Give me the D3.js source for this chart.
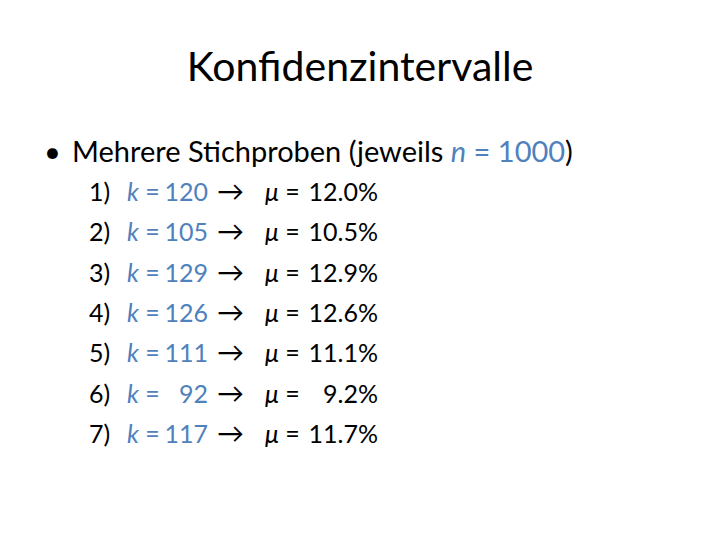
<!DOCTYPE html>
<html><head><meta charset="utf-8">
<script src="https://cdn.jsdelivr.net/npm/d3@7"></script>
<style>body{margin:0;background:#fff}</style>
</head><body><div id="chart"></div>
<script>
const labels = ["1)", "2)", "3)", "4)", "5)", "6)", "7)"];
const kValues = [120, 105, 129, 126, 111, 92, 117];
const muValues = ["12.0%", "10.5%", "12.9%", "12.6%", "11.1%", "9.2%", "11.7%"];

const width = 720, height = 540;
const font = "Lato, 'Open Sans', sans-serif";
const blue = "#4f81bd";

const svg = d3.select("#chart").append("svg")
    .attr("width", width).attr("height", height)
    .style("font-family", font);

// title
svg.append("text").attr("x", 360).attr("y", 81)
    .attr("text-anchor", "middle").attr("font-size", 41).attr("fill", "#000")
    .text("Konfidenzintervalle");

// bullet line
svg.append("text").attr("x", 44).attr("y", 162).attr("font-size", 29).text("•");
const head = svg.append("text").attr("x", 72).attr("y", 162).attr("font-size", 29);
head.append("tspan").text("Mehrere Stichproben (jeweils ");
head.append("tspan").attr("fill", blue).attr("font-style", "italic").text("n");
head.append("tspan").attr("fill", blue).text(" = 1000");
head.append("tspan").text(")");

const y = d3.scalePoint().domain(labels).range([201, 443]);

const rows = svg.selectAll("g.row").data(labels).join("g")
    .attr("class", "row")
    .attr("transform", d => `translate(0,${y(d)})`)
    .attr("font-size", 25);

rows.append("text").attr("x", 89).text(d => d);
rows.append("text").attr("x", 127).attr("fill", blue)
    .html('<tspan font-style="italic">k</tspan> =');
rows.append("text").attr("x", 208).attr("text-anchor", "end").attr("fill", blue)
    .text((d, i) => kValues[i]);
rows.append("text").attr("x", 217).text("\u2192").attr("font-size", 27);
rows.append("text").attr("x", 265)
    .html('<tspan font-style="italic">\u03bc</tspan> =');
rows.append("text").attr("x", 378).attr("text-anchor", "end")
    .text((d, i) => muValues[i]);
</script></body></html>
